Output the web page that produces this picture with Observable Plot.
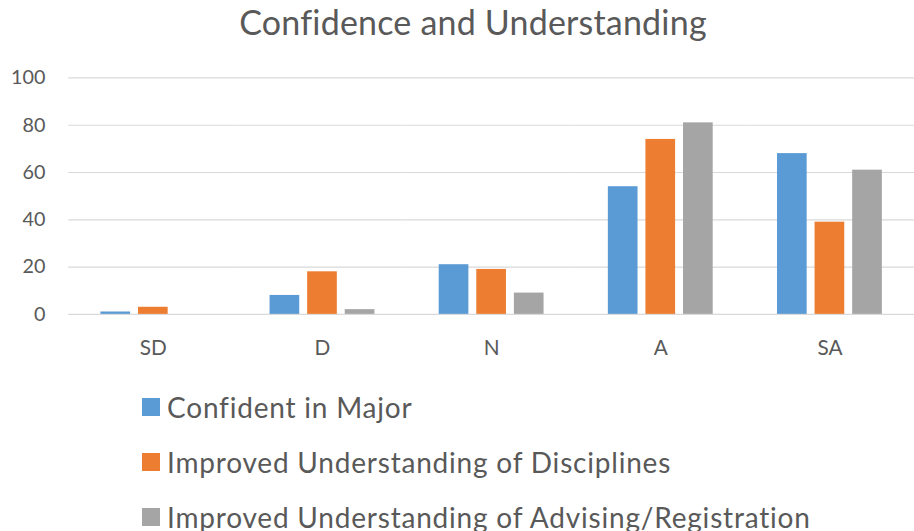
<!DOCTYPE html>
<html><head><meta charset="utf-8">
<script src="https://cdn.jsdelivr.net/npm/d3@7"></script>
<script src="https://cdn.jsdelivr.net/npm/@observablehq/plot@0.6"></script>
<style>
html,body{margin:0;padding:0;background:#fff;}
body{width:914px;height:531px;overflow:hidden;position:relative;font-family:Lato,sans-serif;color:#595959;}
#title{position:absolute;left:0;top:0;width:946px;height:55px;line-height:44px;text-align:center;font-size:34px;letter-spacing:0.2px;}
#chart{position:absolute;left:0;top:55px;}
#legend{position:absolute;left:142px;top:379.5px;}
.item{height:55px;display:flex;align-items:center;font-size:28px;letter-spacing:0.8px;white-space:nowrap;}
.sw{width:17.5px;height:17.5px;margin-right:7.5px;flex:none;}
</style></head><body>
<div id="title">Confidence and Understanding</div>
<div id="chart"></div>
<div id="legend"></div>
<script>
const categories = ["SD", "D", "N", "A", "SA"];
const seriesNames = ["Confident in Major", "Improved Understanding of Disciplines", "Improved Understanding of Advising/Registration"];
const confidentInMajor = [1, 8, 21, 54, 68];
const understandingDisciplines = [3, 18, 19, 74, 39];
const understandingAdvising = [0, 2, 9, 81, 61];
const yTicks = [0, 20, 40, 60, 80, 100];
const colors = ["#5B9BD5", "#ED7D31", "#A5A5A5"];

const seriesValues = [confidentInMajor, understandingDisciplines, understandingAdvising];
const data = categories.flatMap((c, i) => seriesValues.map((arr, j) => ({category: c, series: seriesNames[j], value: arr[i]})));

const chart = Plot.plot({
  width: 924, height: 320,
  marginTop: 22.7, marginBottom: 58.3, marginLeft: 68.5, marginRight: 0.5,
  style: {fontFamily: "Lato, sans-serif", color: "#595959", background: "white"},
  fx: {domain: categories, padding: 0, label: null, axis: null},
  x: {domain: seriesNames, paddingInner: 8 / 38, paddingOuter: 0.855, axis: null},
  y: {domain: [0, 100], label: null, axis: null},
  color: {domain: seriesNames, range: colors},
  marks: [
    Plot.gridY(yTicks, {stroke: "#D9D9D9", strokeOpacity: 1, strokeWidth: 1.2}),
    Plot.axisY(yTicks, {tickSize: 0, tickPadding: 23.5, label: null, fontSize: 20, fill: "#595959"}),
    Plot.barY(data, {fx: "category", x: "series", y: "value", fill: "series"}),
    Plot.axisFx({anchor: "bottom", tickSize: 0, tickPadding: 26, label: null, fontSize: 21, fill: "#595959"})
  ]
});
document.getElementById("chart").appendChild(chart);

const legend = document.getElementById("legend");
seriesNames.forEach((name, i) => {
  const item = document.createElement("div");
  item.className = "item";
  const sw = document.createElement("span");
  sw.className = "sw";
  sw.style.background = colors[i];
  item.appendChild(sw);
  const t = document.createElement("span");
  t.textContent = name;
  item.appendChild(t);
  legend.appendChild(item);
});
</script>
</body></html>
